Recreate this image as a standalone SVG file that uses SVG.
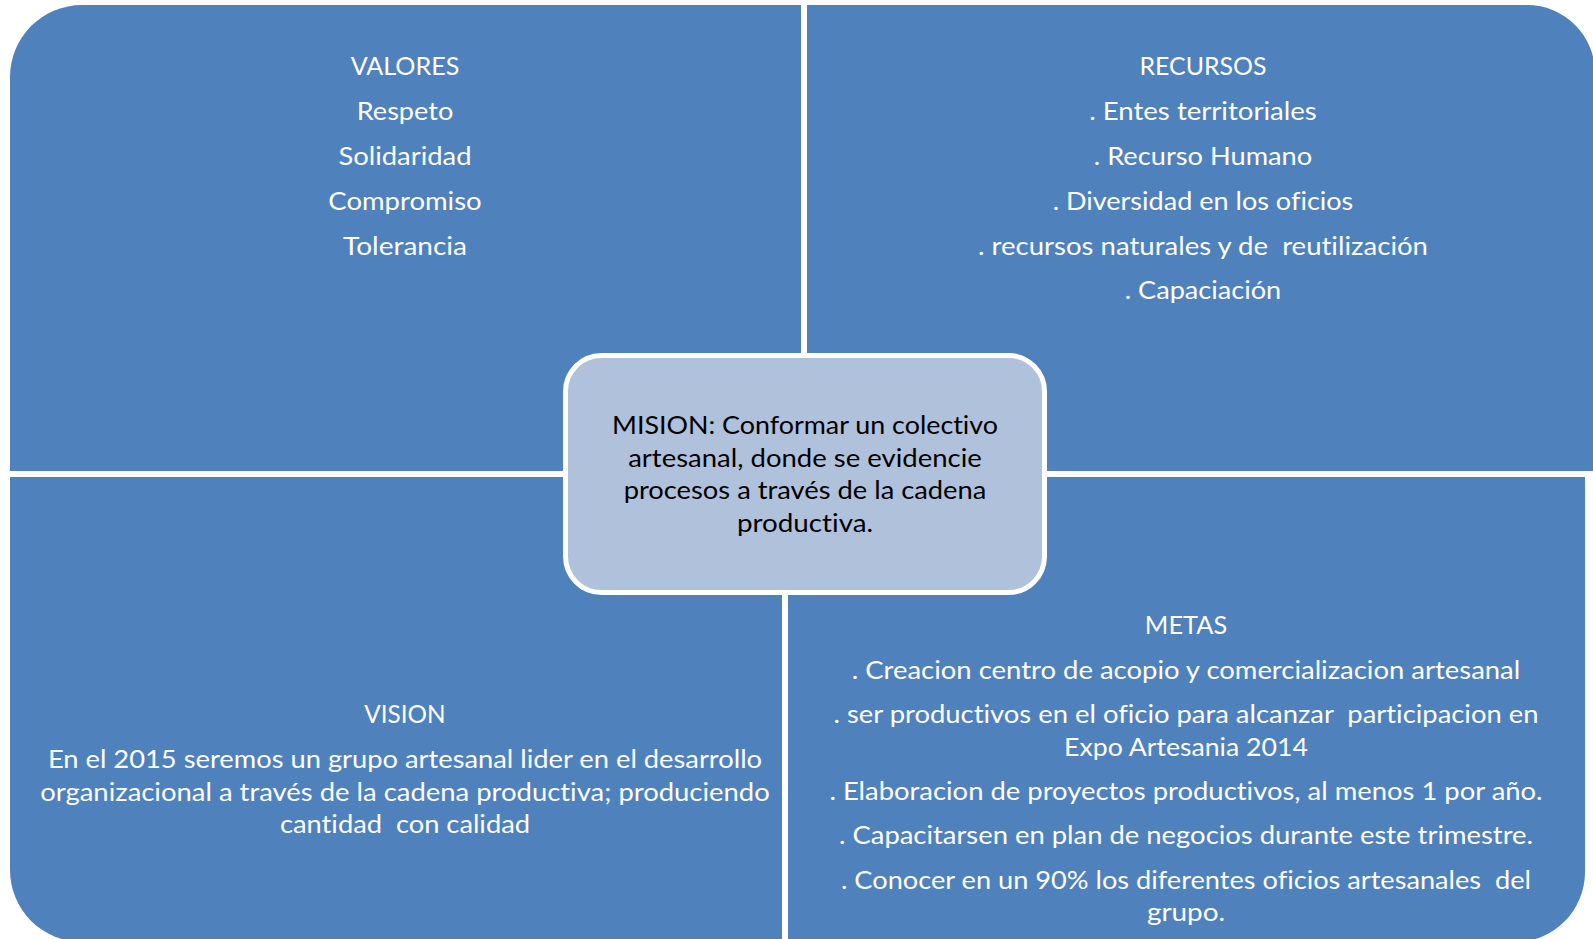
<svg xmlns="http://www.w3.org/2000/svg" width="1593" height="939" viewBox="0 0 1593 939">
<style>
.quad{fill:#4F81BD;}
.center{fill:#B0C1DC;stroke:#FFFFFF;stroke-width:5;}
text{font-family:Lato,"Liberation Sans",sans-serif;font-size:25.5px;text-anchor:middle;white-space:pre;font-variant-ligatures:none;font-feature-settings:"liga" 0,"clig" 0,"dlig" 0;}
.w{fill:#FFFFFF;}
.k{fill:#000000;}
</style>
<rect x="0" y="0" width="1593" height="939" fill="#FFFFFF"/>
<g id="valores">
<path class="quad" d="M10,471 V77 A72,72 0 0 1 82,5 H801 V471 Z"/>
<text class="w" x="405" y="75" textLength="108.7" lengthAdjust="spacingAndGlyphs">VALORES</text>
<text class="w" x="405" y="120" textLength="96.5" lengthAdjust="spacingAndGlyphs">Respeto</text>
<text class="w" x="405" y="165" textLength="133" lengthAdjust="spacingAndGlyphs">Solidaridad</text>
<text class="w" x="405" y="210" textLength="153.4" lengthAdjust="spacingAndGlyphs">Compromiso</text>
<text class="w" x="405" y="255" textLength="124" lengthAdjust="spacingAndGlyphs">Tolerancia</text>
</g>
<g id="recursos">
<path class="quad" d="M807,5 H1527 A68,68 0 0 1 1595,73 V471 H807 Z"/>
<text class="w" x="1203" y="75" textLength="127" lengthAdjust="spacingAndGlyphs">RECURSOS</text>
<text class="w" x="1203" y="120" textLength="227.6" lengthAdjust="spacingAndGlyphs">. Entes territoriales</text>
<text class="w" x="1203" y="165" textLength="218.4" lengthAdjust="spacingAndGlyphs">. Recurso Humano</text>
<text class="w" x="1203" y="210" textLength="300.7" lengthAdjust="spacingAndGlyphs">. Diversidad en los oficios</text>
<text class="w" x="1203" y="255" textLength="450" lengthAdjust="spacingAndGlyphs">. recursos naturales y de  reutilización</text>
<text class="w" x="1203" y="299" textLength="156.5" lengthAdjust="spacingAndGlyphs">. Capaciación</text>
</g>
<g id="vision">
<path class="quad" d="M10,477 H782 V942 H82 A72,72 0 0 1 10,870 Z"/>
<text class="w" x="405" y="723" textLength="81.3" lengthAdjust="spacingAndGlyphs">VISION</text>
<text class="w" x="405" y="768" textLength="714.2" lengthAdjust="spacingAndGlyphs">En el 2015 seremos un grupo artesanal lider en el desarrollo</text>
<text class="w" x="405" y="800.5" textLength="729.5" lengthAdjust="spacingAndGlyphs">organizacional a través de la cadena productiva; produciendo</text>
<text class="w" x="405" y="833" textLength="250" lengthAdjust="spacingAndGlyphs">cantidad  con calidad</text>
</g>
<g id="metas">
<path class="quad" d="M788,477 H1585 V872 A70,70 0 0 1 1515,942 H788 Z"/>
<text class="w" x="1186" y="634" textLength="82.3" lengthAdjust="spacingAndGlyphs">METAS</text>
<text class="w" x="1186" y="679" textLength="668.5" lengthAdjust="spacingAndGlyphs">. Creacion centro de acopio y comercializacion artesanal</text>
<text class="w" x="1186" y="723" textLength="705" lengthAdjust="spacingAndGlyphs">. ser productivos en el oficio para alcanzar  participacion en</text>
<text class="w" x="1186" y="755.5" textLength="243.8" lengthAdjust="spacingAndGlyphs">Expo Artesania 2014</text>
<text class="w" x="1186" y="800" textLength="713.2" lengthAdjust="spacingAndGlyphs">. Elaboracion de proyectos productivos, al menos 1 por año.</text>
<text class="w" x="1186" y="844" textLength="694" lengthAdjust="spacingAndGlyphs">. Capacitarsen en plan de negocios durante este trimestre.</text>
<text class="w" x="1186" y="888.5" textLength="690" lengthAdjust="spacingAndGlyphs">. Conocer en un 90% los diferentes oficios artesanales  del</text>
<text class="w" x="1186" y="920.5" textLength="78.2" lengthAdjust="spacingAndGlyphs">grupo.</text>
</g>
<g id="connectors"></g>
<g id="mision">
<rect class="center" x="565.5" y="355.5" width="479" height="237" rx="36" ry="36"/>
<text class="k" x="805" y="434" textLength="386" lengthAdjust="spacingAndGlyphs">MISION: Conformar un colectivo</text>
<text class="k" x="805" y="466.5" textLength="353.6" lengthAdjust="spacingAndGlyphs">artesanal, donde se evidencie</text>
<text class="k" x="805" y="499" textLength="362.7" lengthAdjust="spacingAndGlyphs">procesos a través de la cadena</text>
<text class="k" x="805" y="531.5" textLength="136" lengthAdjust="spacingAndGlyphs">productiva.</text>
</g>
</svg>
